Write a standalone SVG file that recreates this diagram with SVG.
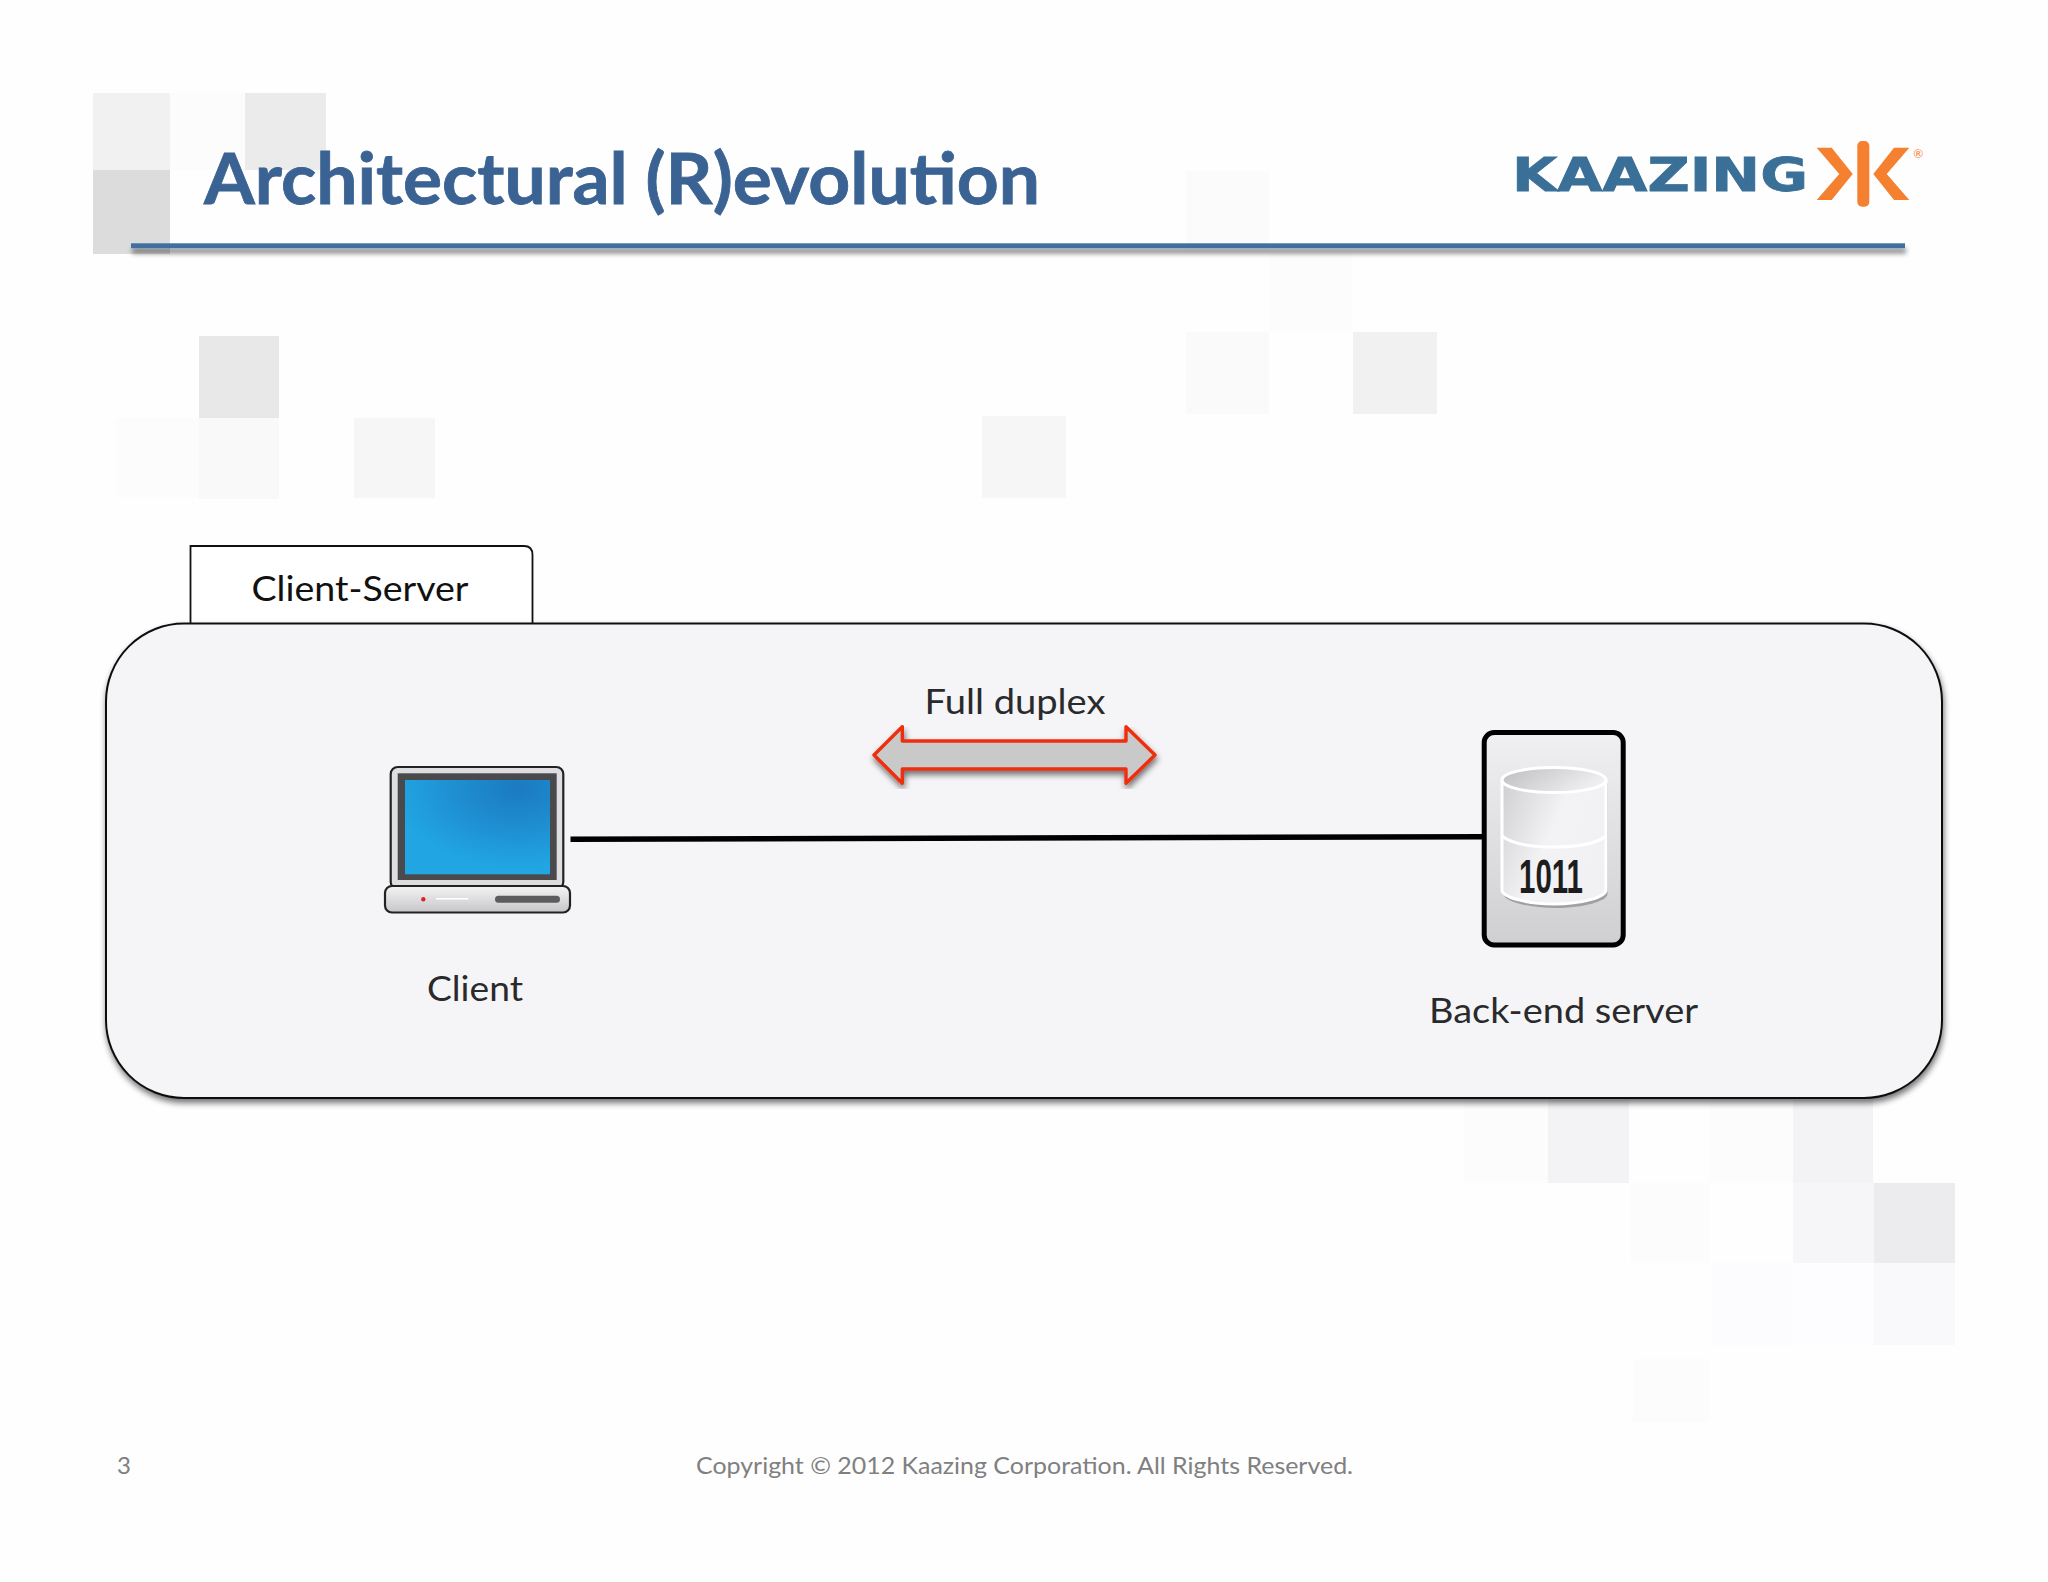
<svg xmlns="http://www.w3.org/2000/svg" width="2048" height="1582" viewBox="0 0 2048 1582">
<style>
text{font-family:Lato,"Liberation Sans",sans-serif}
.lbl{font-size:35px;fill:#2a2a2c;text-anchor:middle}
.foot{font-size:24px;fill:#808080}
</style>
<defs>
<filter id="sh" x="-5%" y="-5%" width="110%" height="115%"><feGaussianBlur in="SourceAlpha" stdDeviation="3"/><feOffset dx="1" dy="4"/><feComponentTransfer><feFuncA type="linear" slope="0.55"/></feComponentTransfer><feMerge><feMergeNode/><feMergeNode in="SourceGraphic"/></feMerge></filter>
<filter id="shr" x="-10%" y="-600%" width="120%" height="1400%"><feGaussianBlur in="SourceAlpha" stdDeviation="2.5"/><feOffset dx="1" dy="5"/><feComponentTransfer><feFuncA type="linear" slope="0.5"/></feComponentTransfer><feMerge><feMergeNode/><feMergeNode in="SourceGraphic"/></feMerge></filter>
<radialGradient id="blue" cx="0.78" cy="0.08" r="0.85"><stop offset="0" stop-color="#1b7ac2"/><stop offset="0.45" stop-color="#1e8ccf"/><stop offset="1" stop-color="#21a5e3"/></radialGradient>
<linearGradient id="base" x1="0" y1="0" x2="0" y2="1"><stop offset="0" stop-color="#f4f4f5"/><stop offset="1" stop-color="#c6c6c8"/></linearGradient>
<linearGradient id="srv" x1="0" y1="0" x2="0" y2="1"><stop offset="0" stop-color="#f0f0f2"/><stop offset="1" stop-color="#cfcfd1"/></linearGradient>
<linearGradient id="cyl" x1="0" y1="0" x2="1" y2="0.5"><stop offset="0" stop-color="#cfcfd1"/><stop offset="0.55" stop-color="#f3f3f5"/><stop offset="1" stop-color="#f1f1f3"/></linearGradient>
<linearGradient id="cyltop" x1="0" y1="0" x2="1" y2="0.4"><stop offset="0" stop-color="#bdbdbf"/><stop offset="1" stop-color="#efeff1"/></linearGradient>
</defs>
<rect width="2048" height="1582" fill="#fefefe"/>
<g id="background">
<rect x="93" y="93" width="77" height="77" fill="#f1f1f1"/>
<rect x="93" y="170" width="77" height="84" fill="#dcdcdc"/>
<rect x="170" y="93" width="75" height="77" fill="#fcfcfc"/>
<rect x="245" y="93" width="81" height="77" fill="#ebebeb"/>
<rect x="199" y="336" width="80" height="82" fill="#e8e8e8"/>
<rect x="199" y="418" width="80" height="81" fill="#f9f9f9"/>
<rect x="116" y="418" width="83" height="79" fill="#fcfcfc"/>
<rect x="354" y="418" width="81" height="80" fill="#f6f6f7"/>
<rect x="982" y="416" width="84" height="82" fill="#f6f6f7"/>
<rect x="1186" y="171" width="83" height="80" fill="#fbfbfc"/>
<rect x="1269" y="251" width="83" height="80" fill="#fcfcfd"/>
<rect x="1186" y="332" width="83" height="82" fill="#fafafb"/>
<rect x="1353" y="332" width="84" height="82" fill="#f1f1f2"/>
<rect x="1464" y="1100" width="84" height="83" fill="#fdfcfd"/>
<rect x="1548" y="1100" width="81" height="83" fill="#f3f2f4"/>
<rect x="1709" y="1100" width="84" height="83" fill="#fdfcfd"/>
<rect x="1793" y="1100" width="80" height="83" fill="#f3f2f4"/>
<rect x="1793" y="1183" width="81" height="80" fill="#f6f5f7"/>
<rect x="1874" y="1183" width="81" height="80" fill="#ecebed"/>
<rect x="1874" y="1263" width="81" height="82" fill="#f9f8fa"/>
<rect x="1631" y="1183" width="78" height="80" fill="#fdfcfd"/>
<rect x="1712" y="1263" width="81" height="82" fill="#fcfbfd"/>
<rect x="1793" y="1263" width="81" height="82" fill="#fdfcfe"/>
<rect x="1633" y="1359" width="76" height="63" fill="#fdfcfd"/>
</g>
<g id="title">
<text x="204" y="204" font-size="71" font-weight="700" fill="#3a6393" stroke="#3a6393" stroke-width="0.8" textLength="836" lengthAdjust="spacingAndGlyphs">Architectural (R)evolution</text>
<rect x="131" y="243.3" width="1774" height="5" fill="#40709f" filter="url(#shr)"/>
</g>
<g id="logo">
<text x="1512" y="191" font-size="46" font-weight="700" fill="#3a6f98" stroke="#3a6f98" stroke-width="0.8" style="font-family:'DejaVu Sans',sans-serif" textLength="296" lengthAdjust="spacingAndGlyphs">KAAZING</text>
<path fill="#f58030" d="M1816.7 147.7H1831.7L1852.7 174L1831.7 200H1816.7L1839.3 174ZM1909.3 147.7H1894L1873.3 174L1894 200H1909.3L1886.7 174Z"/>
<rect x="1857.3" y="141" width="12" height="65.7" rx="4.7" fill="#f58030"/>
<text x="1918.3" y="157.5" font-size="12" fill="#f58030" text-anchor="middle">®</text>
</g>
<g id="tab">
<path d="M190.5 623V546H524Q532.5 546 532.5 555V623" fill="#fff" stroke="#111" stroke-width="1.8"/>
<text x="360" y="601" font-size="35" fill="#111" text-anchor="middle" textLength="217" lengthAdjust="spacingAndGlyphs">Client-Server</text>
</g>
<g id="panel">
<rect x="106" y="623.5" width="1836" height="474.5" rx="78" fill="#f5f5f7" stroke="#111" stroke-width="2" filter="url(#sh)"/>
</g>
<g id="connectors">
<line x1="570.5" y1="839.3" x2="1484" y2="836.7" stroke="#000" stroke-width="5.5"/>
<path d="M874 755L902.3 726.7V741H1126V726.7L1155 755L1126 783.3V769H902.3V783.3Z" fill="#c9c9c9" stroke="#ee2f10" stroke-width="3.4" stroke-linejoin="round" filter="url(#sh)"/>
</g>
<g id="client">
<rect x="390.7" y="767" width="172.6" height="122" rx="7" fill="#dedee0" stroke="#222" stroke-width="2.2"/>
<rect x="397.7" y="773.3" width="159" height="106.7" fill="#4a4a4c"/>
<rect x="405" y="780" width="145" height="94.3" fill="url(#blue)"/>
<rect x="385" y="886" width="185" height="26.5" rx="7" fill="url(#base)" stroke="#222" stroke-width="2.2"/>
<circle cx="423.3" cy="899.3" r="2.2" fill="#e0202c"/>
<line x1="436" y1="898.7" x2="468.3" y2="898.7" stroke="#fff" stroke-width="1.5"/>
<rect x="495" y="895.7" width="65" height="7" rx="3.5" fill="#5c5c5e"/>
<text class="lbl" x="475" y="1001" textLength="96" lengthAdjust="spacingAndGlyphs">Client</text>
</g>
<g id="server">
<rect x="1484.2" y="732.5" width="139" height="212.5" rx="10" fill="url(#srv)" stroke="#000" stroke-width="5"/>
<path d="M1502 781V892C1502 899 1526 906 1554 906S1606 899 1606 892V781Z" fill="#a0a0a2" transform="translate(1.5 2)"/>
<path d="M1502 781V890C1502 897 1526 904 1554 904S1606 897 1606 890V781Z" fill="url(#cyl)" stroke="#fff" stroke-width="3"/>
<ellipse cx="1554" cy="780" rx="52" ry="12.5" fill="url(#cyltop)" stroke="#fff" stroke-width="3"/>
<path d="M1502 836C1512 844 1532 847 1554 847S1596 844 1606 836" fill="none" stroke="#fff" stroke-width="3"/>
<text x="1519" y="893" font-size="48" font-weight="700" fill="#1d1d1f" style="font-family:'Liberation Sans',sans-serif" textLength="64" lengthAdjust="spacingAndGlyphs">1011</text>
<text class="lbl" x="1563.5" y="1023" textLength="269" lengthAdjust="spacingAndGlyphs">Back-end server</text>
</g>
<g id="duplex-label">
<text class="lbl" x="1015" y="714" textLength="181" lengthAdjust="spacingAndGlyphs">Full duplex</text>
</g>
<g id="footer">
<text class="foot" x="117" y="1474">3</text>
<text class="foot" x="696" y="1474" textLength="657" lengthAdjust="spacingAndGlyphs">Copyright © 2012 Kaazing Corporation. All Rights Reserved.</text>
</g>
</svg>
